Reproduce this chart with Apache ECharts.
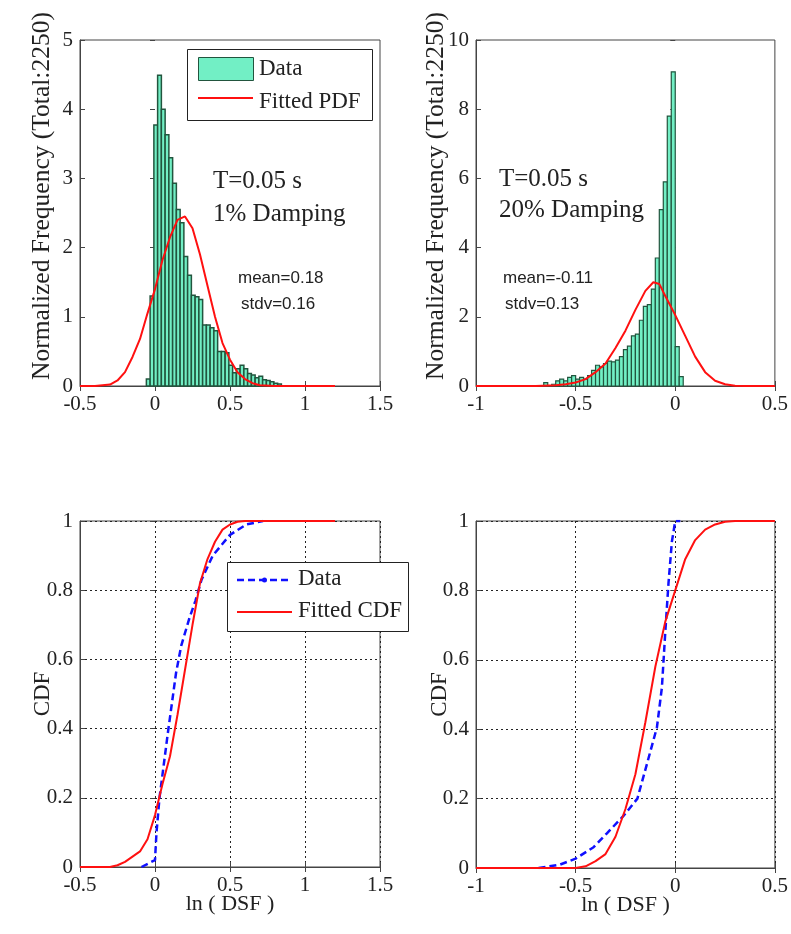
<!DOCTYPE html>
<html>
<head>
<meta charset="utf-8">
<script src="https://cdn.jsdelivr.net/npm/echarts@6/dist/echarts.min.js"></script>
<style>
html,body{margin:0;padding:0;background:#fff;}
#chart{width:791px;height:934px;}
</style>
</head>
<body>
<div id="chart"></div>
<script>
// ---------- DATA ----------
// Top-left histogram (1% damping)
const hist1Centers = [-0.045,-0.02,0.005,0.03,0.055,0.08,0.105,0.13,0.155,0.18,0.205,0.23,0.255,0.28,0.305,0.33,0.355,0.38,0.405,0.43,0.455,0.48,0.505,0.53,0.555,0.58,0.605,0.63,0.655,0.68,0.705,0.73,0.755,0.78,0.805,0.83];
const hist1Heights = [0.1,1.3,3.77,4.49,4.0,3.63,3.3,2.93,2.55,2.36,1.87,1.6,1.31,1.29,1.25,0.88,0.88,0.84,0.8,0.5,0.5,0.48,0.3,0.19,0.25,0.3,0.25,0.18,0.16,0.12,0.14,0.09,0.08,0.06,0.04,0.03];
const hist1BinWidth = 0.025;
const pdf1X = [-0.5,-0.4,-0.3,-0.25,-0.2,-0.15,-0.1,-0.05,0,0.05,0.1,0.15,0.2,0.25,0.3,0.35,0.4,0.45,0.5,0.55,0.6,0.65,0.7,0.8,1.2];
const pdf1Y = [0,0,0.02,0.08,0.2,0.42,0.68,1.05,1.4,1.82,2.15,2.4,2.45,2.28,1.9,1.45,1.0,0.62,0.38,0.2,0.1,0.04,0.01,0,0];

// Top-right histogram (20% damping)
const hist2Centers = [-0.65,-0.63,-0.61,-0.59,-0.57,-0.55,-0.53,-0.51,-0.49,-0.47,-0.45,-0.43,-0.41,-0.39,-0.37,-0.35,-0.33,-0.31,-0.29,-0.27,-0.25,-0.23,-0.21,-0.19,-0.17,-0.15,-0.13,-0.11,-0.09,-0.07,-0.05,-0.03,-0.01,0.01,0.03];
const hist2Heights = [0.1,0,0.05,0.15,0.2,0.15,0.25,0.3,0.2,0.25,0.2,0.3,0.45,0.6,0.55,0.65,0.72,0.7,0.75,0.85,1.05,1.15,1.45,1.5,1.9,2.3,2.35,2.8,3.7,5.1,5.9,7.8,9.08,1.14,0.27];
const hist2BinWidth = 0.02;
const pdf2X = [-1,-0.7,-0.6,-0.55,-0.5,-0.45,-0.4,-0.35,-0.3,-0.25,-0.2,-0.15,-0.11,-0.08,-0.05,0,0.05,0.1,0.15,0.2,0.25,0.3,0.35,0.5];
const pdf2Y = [0,0,0.02,0.05,0.1,0.2,0.4,0.65,1.1,1.6,2.2,2.75,3.0,2.95,2.6,2.05,1.45,0.85,0.4,0.15,0.05,0.01,0,0];

// Bottom-left CDF
const cdf1DataX = [-0.09,0,0.01,0.03,0.085,0.14,0.175,0.23,0.27,0.31,0.385,0.5,0.61,0.72];
const cdf1DataY = [0,0.02,0.1,0.2,0.385,0.56,0.64,0.72,0.77,0.83,0.9,0.96,0.99,1.0];
const cdf1FitX = [-0.5,-0.3,-0.25,-0.2,-0.15,-0.1,-0.05,0,0.05,0.1,0.15,0.2,0.25,0.3,0.35,0.4,0.45,0.5,0.55,0.6,1.2];
const cdf1FitY = [0,0,0.005,0.015,0.03,0.045,0.08,0.15,0.24,0.32,0.44,0.57,0.7,0.82,0.89,0.94,0.975,0.99,0.998,1,1];

// Bottom-right CDF
const cdf2DataX = [-0.686,-0.577,-0.5,-0.41,-0.343,-0.26,-0.19,-0.142,-0.092,-0.067,-0.05,-0.034,-0.017,0,0.025];
const cdf2DataY = [0,0.01,0.027,0.06,0.1,0.15,0.2,0.3,0.405,0.52,0.68,0.82,0.94,1.0,1.0];
const cdf2FitX = [-1,-0.5,-0.45,-0.4,-0.35,-0.3,-0.25,-0.2,-0.15,-0.1,-0.05,0,0.05,0.1,0.15,0.2,0.25,0.3,0.5];
const cdf2FitY = [0,0,0.005,0.02,0.04,0.09,0.17,0.27,0.42,0.58,0.71,0.8,0.89,0.945,0.975,0.99,0.998,1,1];

const xTicksLeft = {min:-0.5,max:1.5,interval:0.5};
const xTicksRight = {min:-1,max:0.5,interval:0.5};

// ---------- BUILD ----------
const zip = (a,b) => a.map((v,i)=>[v,b[i]]);
const SERIF = 'Liberation Serif';
const SANS = 'Liberation Sans';
const txt = '#222';
const MINT = '#72efc5';
const EDGE = '#22553e';

const grids = [
  {left:80, top:40, width:300, height:346},
  {left:476, top:40, width:299, height:346},
  {left:80, top:521, width:300, height:346},
  {left:476, top:521, width:299, height:347}
].map(g=>Object.assign(g,{show:true,borderColor:'#444',borderWidth:1,backgroundColor:'#fff'}));

const xRanges = [xTicksLeft, xTicksRight, xTicksLeft, xTicksRight];
const yRanges = [{min:0,max:5,interval:1},{min:0,max:10,interval:2},{min:0,max:1,interval:0.2},{min:0,max:1,interval:0.2}];
const yNameGap = [25,27,26,25];

const xAxes = [], yAxes = [];
for (let i=0;i<4;i++){
  const grid = i>=2;
  xAxes.push({
    type:'value', gridIndex:i, position:'bottom',
    min:xRanges[i].min, max:xRanges[i].max, interval:xRanges[i].interval,
    axisLine:{show:true,onZero:false,lineStyle:{color:'#444'}},
    axisTick:{show:true,inside:true,length:5,lineStyle:{color:'#444'}},
    axisLabel:{show:true,margin:8,fontFamily:SERIF,fontSize:21,color:txt},
    splitLine:{show:grid,lineStyle:{color:'#222',type:[2,3],width:1}},
    name: grid ? 'ln ( DSF )' : '',
    nameLocation:'middle', nameGap:26, nameMoveOverlap:false,
    nameTextStyle:{fontFamily:SERIF,fontSize:22,color:txt}
  });
  yAxes.push({
    type:'value', gridIndex:i, position:'left',
    min:yRanges[i].min, max:yRanges[i].max, interval:yRanges[i].interval,
    axisLine:{show:true,onZero:false,lineStyle:{color:'#444'}},
    axisTick:{show:true,inside:true,length:5,lineStyle:{color:'#444'}},
    axisLabel:{show:true,margin:7,fontFamily:SERIF,fontSize:21,color:txt},
    splitLine:{show:grid,lineStyle:{color:'#222',type:[2,3],width:1}},
    name: grid ? 'CDF' : 'Normalized Frequency (Total:2250)',
    nameLocation:'middle', nameGap: yNameGap[i], nameMoveOverlap:false,
    nameTextStyle: grid ? {fontFamily:SERIF,fontSize:23,color:txt}
                        : {fontFamily:SERIF,fontSize:25.5,color:txt,padding:[0,0,0,34]}
  });
}
// mirror axes for top/right ticks
for (let i=0;i<4;i++){
  xAxes.push({
    type:'value', gridIndex:i, position:'top',
    min:xRanges[i].min, max:xRanges[i].max, interval:xRanges[i].interval,
    axisLine:{show:false}, axisLabel:{show:false}, splitLine:{show:false},
    axisTick:{show:true,inside:true,length:5,lineStyle:{color:'#444'}}
  });
  yAxes.push({
    type:'value', gridIndex:i, position:'right',
    min:yRanges[i].min, max:yRanges[i].max, interval:yRanges[i].interval,
    axisLine:{show:false}, axisLabel:{show:false}, splitLine:{show:false},
    axisTick:{show:true,inside:true,length:5,lineStyle:{color:'#444'}}
  });
}

function histSeries(name, idx, centers, heights, bw, edgeW){
  return {
    name:name, type:'custom', xAxisIndex:idx, yAxisIndex:idx,
    data: zip(centers, heights),
    encode:{x:0,y:1},
    renderItem:function(params, api){
      const c = api.value(0), h = api.value(1);
      const p0 = api.coord([c - bw/2, h]);
      const p1 = api.coord([c + bw/2, 0]);
      return {
        type:'rect',
        shape:{x:p0[0], y:p0[1], width:p1[0]-p0[0], height:p1[1]-p0[1]},
        style:{fill:MINT, stroke:EDGE, lineWidth:edgeW}
      };
    },
    z:2, silent:true
  };
}
function lineSeries(name, idx, xs, ys, color, dashed){
  return {
    name:name, type:'line', xAxisIndex:idx, yAxisIndex:idx,
    data: zip(xs, ys), smooth:false,
    symbol:'none',
    lineStyle:{color:color, width: dashed ? 2.5 : 2, type: dashed ? [7,4] : 'solid'},
    z:3, silent:true
  };
}

const series = [
  histSeries('Data', 0, hist1Centers, hist1Heights, hist1BinWidth, 1.5),
  lineSeries('Fitted PDF', 0, pdf1X, pdf1Y, '#ff1010', false),
  histSeries('Data', 1, hist2Centers, hist2Heights, hist2BinWidth, 1.2),
  lineSeries('Fitted PDF', 1, pdf2X, pdf2Y, '#ff1010', false),
  lineSeries('Data', 2, cdf1DataX, cdf1DataY, '#1010ff', true),
  lineSeries('Fitted CDF', 2, cdf1FitX, cdf1FitY, '#ff1010', false),
  lineSeries('Data', 3, cdf2DataX, cdf2DataY, '#1010ff', true),
  lineSeries('Fitted CDF', 3, cdf2FitX, cdf2FitY, '#ff1010', false)
];

function t(x,y,s,font,size){
  return {type:'text', left:x, top:y, z:100, style:{text:s, font: size+'px "'+font+'"', fill:txt}};
}
function lt(x,cy,s){ // legend text, vertically centred at cy
  return {type:'text', x:x, y:cy, z:101, style:{text:s, font:'23px "'+SERIF+'"', fill:txt, textVerticalAlign:'middle'}};
}
const graphics = [
  // annotations
  t(213,169,'T=0.05 s',SERIF,25),
  t(213,202,'1% Damping',SERIF,25),
  t(238,270,'mean=0.18',SANS,17),
  t(241,296,'stdv=0.16',SANS,17),
  t(499,167,'T=0.05 s',SERIF,25),
  t(499,198,'20% Damping',SERIF,25),
  t(503,270,'mean=-0.11',SANS,17),
  t(505,296,'stdv=0.13',SANS,17),
  // legend 1 (top-left)
  {type:'rect', z:100, shape:{x:187.5,y:49.5,width:185,height:71}, style:{fill:'#fff',stroke:'#222',lineWidth:1}},
  {type:'rect', z:101, shape:{x:198.5,y:57.5,width:55,height:23}, style:{fill:MINT,stroke:EDGE,lineWidth:1}},
  lt(259,69,'Data'),
  {type:'line', z:101, shape:{x1:198,y1:98,x2:253,y2:98}, style:{stroke:'#ff1010',lineWidth:2}},
  lt(259,102,'Fitted PDF'),
  // legend 2 (bottom-left)
  {type:'rect', z:100, shape:{x:227.5,y:562.5,width:181,height:69}, style:{fill:'#fff',stroke:'#222',lineWidth:1}},
  {type:'line', z:101, shape:{x1:237,y1:580,x2:292,y2:580}, style:{stroke:'#1010ff',lineWidth:2.5,lineDash:[7,4]}},
  {type:'circle', z:102, shape:{cx:264.5,cy:580,r:2.5}, style:{fill:'#1010ff'}},
  lt(298,579,'Data'),
  {type:'line', z:101, shape:{x1:237,y1:612,x2:292,y2:612}, style:{stroke:'#ff1010',lineWidth:2}},
  lt(298,611,'Fitted CDF')
];

const chart = echarts.init(document.getElementById('chart'), null, {renderer:'canvas'});
chart.setOption({
  backgroundColor:'#fff',
  animation:false,
  grid:grids, xAxis:xAxes, yAxis:yAxes, series:series,
  graphic:graphics
});
</script>
</body>
</html>
